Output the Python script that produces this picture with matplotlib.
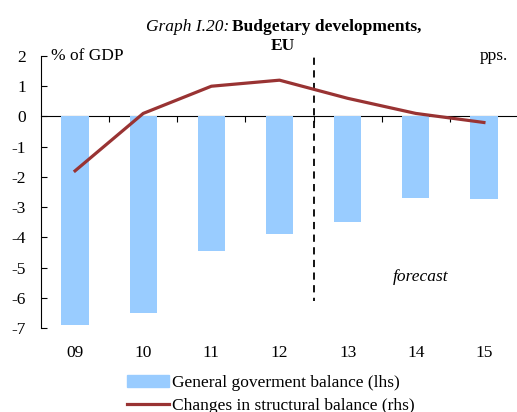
import matplotlib.pyplot as plt
from matplotlib.lines import Line2D
from matplotlib.patches import Patch

plt.rcParams['font.family'] = 'Liberation Serif'
plt.rcParams['font.size'] = 12.5
plt.rcParams['axes.unicode_minus'] = False

# data
years = ['09', '10', '11', '12', '13', '14', '15']
gov_balance = [-6.9, -6.5, -4.45, -3.9, -3.5, -2.7, -2.72]
struct_change = [-1.8, 0.1, 1.0, 1.2, 0.6, 0.1, -0.2]

bar_col = '#99ccff'
line_col = '#993333'

fig = plt.figure(figsize=(5.17, 4.12), dpi=100)
ax = fig.add_axes([41 / 517, 1 - 328 / 412, 477 / 517, 272 / 412])

x = list(range(len(years)))
ax.bar(x, gov_balance, width=0.4, color=bar_col, zorder=2)
ax.set_xlim(-0.5, len(years) - 0.5)
ax.set_ylim(-7, 2)
ax.set_yticks(range(-7, 3))
ax.tick_params(axis='y', direction='in', length=4, width=0.8, pad=11)
ax.set_xticks(x)
ax.set_xticklabels(years)
ax.tick_params(axis='x', length=0, pad=12)
for s in ['top', 'right', 'bottom']:
    ax.spines[s].set_visible(False)

# zero line with category separators
zero = ax.secondary_xaxis((0 - (-7)) / 9)
zero.set_xticks([i + 0.5 for i in range(len(years) - 1)])
zero.set_xticklabels([])
zero.tick_params(direction='in', length=4, width=0.8)
zero.spines['bottom'].set_linewidth(1.0)

# rhs line
ax2 = ax.twinx()
ax2.set_ylim(-7, 2)
ax2.plot(x, struct_change, color=line_col, lw=2.3, zorder=3)
ax2.set_yticks([])
for s in ax2.spines.values():
    s.set_visible(False)

# forecast divider
ax.plot([3.5, 3.5], [2.35, -6.1], color='black', lw=1.3, ls=(0, (4, 3)), zorder=4)
ax.text(5.07, -5.3, 'forecast', style='italic', ha='center', va='center')

ax.text(0.022, 1.0, '% of GDP', transform=ax.transAxes, ha='left', va='center')
ax.text(0.98, 1.0, 'pps.', transform=ax.transAxes, ha='right', va='center')

# title
fig.text(229 / 517, 1 - 31 / 412, 'Graph I.20:', style='italic', ha='right', va='baseline')
fig.text(232 / 517, 1 - 31 / 412, 'Budgetary developments,', weight='bold', ha='left', va='baseline')
fig.text(283 / 517, 1 - 50 / 412, 'EU', weight='bold', ha='center', va='baseline')

handles = [Patch(color=bar_col), Line2D([], [], color=line_col, lw=2.3)]
labels = ['General goverment balance (lhs)', 'Changes in structural balance (rhs)']
fig.legend(handles, labels, loc='upper left', bbox_to_anchor=(127 / 517, 1 - 375 / 412),
           frameon=False, handlelength=2.4, handletextpad=0.2, labelspacing=0.4,
           borderpad=0, borderaxespad=0)

fig.savefig('out.png', dpi=100)
